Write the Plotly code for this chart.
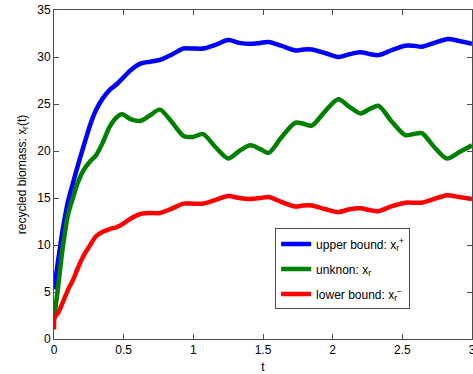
import plotly.graph_objects as go

t = [0, 0.005, 0.03, 0.06, 0.1, 0.14, 0.17, 0.21, 0.26, 0.3, 0.35, 0.4, 0.45, 0.49, 0.55, 0.62,
     0.69, 0.76, 0.85, 0.93, 1.0, 1.07, 1.16, 1.25, 1.33, 1.41, 1.48, 1.54, 1.63, 1.73,
     1.79, 1.85, 1.95, 2.04, 2.12, 2.2, 2.27, 2.33, 2.42, 2.52, 2.58, 2.64, 2.73, 2.82,
     2.91, 3.0]

upper = [5.3, 5.7, 8.4, 11.4, 14.6, 16.8, 18.4, 20.4, 22.8, 24.3, 25.6, 26.5, 27.1, 27.7, 28.6, 29.3,
         29.5, 29.7, 30.3, 30.9, 30.9, 30.9, 31.3, 31.8, 31.5, 31.4, 31.5, 31.6, 31.2, 30.7,
         30.8, 30.8, 30.4, 30.0, 30.3, 30.5, 30.3, 30.2, 30.7, 31.2, 31.2, 31.1, 31.5, 31.9,
         31.7, 31.4]

unknown = [2.5, 2.8, 5.6, 9.4, 13.2, 15.2, 16.6, 17.9, 18.9, 19.5, 20.9, 22.6, 23.6, 23.9, 23.4, 23.2,
           23.8, 24.4, 23.0, 21.6, 21.5, 21.8, 20.4, 19.2, 20.0, 20.6, 20.2, 19.8, 21.4, 23.0,
           22.9, 22.7, 24.3, 25.5, 24.7, 24.0, 24.5, 24.8, 23.2, 21.7, 21.8, 21.9, 20.4, 19.2,
           19.9, 20.6]

lower = [1.0, 2.3, 2.8, 3.8, 5.2, 6.4, 7.5, 8.8, 10.0, 10.9, 11.4, 11.7, 11.9, 12.2, 12.8, 13.3,
         13.4, 13.4, 13.9, 14.4, 14.4, 14.4, 14.8, 15.2, 15.0, 14.9, 15.0, 15.1, 14.6, 14.1,
         14.2, 14.2, 13.8, 13.5, 13.8, 13.9, 13.7, 13.6, 14.1, 14.5, 14.5, 14.5, 14.9, 15.3,
         15.1, 14.9]

names = ["upper bound: x<sub>r</sub><sup>+</sup>",
         "unknon: x<sub>r</sub>",
         "lower bound: x<sub>r</sub><sup>\u2212</sup>"]
colors = ["#0000ff", "#008000", "#ff0000"]

x_ticks = [0, 0.5, 1, 1.5, 2, 2.5, 3]
x_ticklabels = ["0", "0.5", "1", "1.5", "2", "2.5", "3"]
y_ticks = [0, 5, 10, 15, 20, 25, 30, 35]

fig = go.Figure()
for i, (ys, nm, c) in enumerate(zip([upper, unknown, lower], names, colors)):
    fig.add_trace(go.Scatter(x=t, y=ys, mode="lines", name=nm, legendgroup=f"g{i}",
                             line=dict(color=c, width=4.5, shape="spline", smoothing=0.8)))

axis_common = dict(showgrid=False, zeroline=False, showline=True, linecolor="#4d4d4d",
                   linewidth=1, mirror="ticks", ticks="inside", ticklen=5,
                   tickcolor="#4d4d4d", tickfont=dict(size=12, color="black"),
                   automargin=False)

fig.update_layout(
    width=473, height=374,
    margin=dict(l=54, r=1, t=10, b=35),
    paper_bgcolor="white", plot_bgcolor="white",
    font=dict(family="Liberation Sans, Arial, sans-serif", size=12, color="black"),
    xaxis=dict(range=[0, 3], tickvals=x_ticks, ticktext=x_ticklabels,
               ticklabeloverflow="allow",
               title=dict(text="t", standoff=6, font=dict(size=12)), **axis_common),
    yaxis=dict(range=[0, 35], tickvals=y_ticks,
               title=dict(text="recycled biomass: x<sub>r</sub>(t)", standoff=8,
                          font=dict(size=12)), **axis_common),
    legend=dict(x=0.529, y=0.336, xanchor="left", yanchor="top",
                bordercolor="#4d4d4d", borderwidth=1, bgcolor="white",
                font=dict(size=12), tracegroupgap=6),
    showlegend=True,
)

fig.write_html("out.html")
